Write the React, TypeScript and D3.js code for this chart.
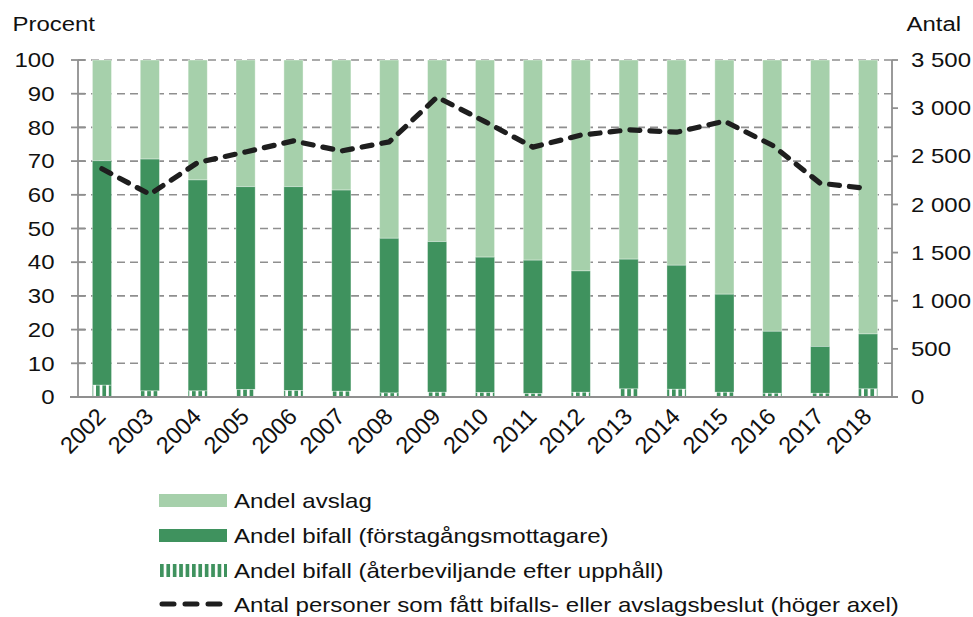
import React from "react";
import * as d3 from "d3";

const years = ["2002","2003","2004","2005","2006","2007","2008","2009","2010","2011","2012","2013","2014","2015","2016","2017","2018"];
const aterbeviljande = [3.5, 1.8, 1.8, 2.2, 1.9, 1.7, 1.2, 1.4, 1.3, 1.0, 1.4, 2.4, 2.3, 1.4, 1.1, 1.1, 2.4];
const forstagang = [66.6, 68.8, 62.6, 60.2, 60.5, 59.7, 45.9, 44.7, 40.2, 39.6, 36.0, 38.5, 36.8, 29.1, 18.4, 13.9, 16.3];
const avslag = [29.9, 29.4, 35.6, 37.6, 37.6, 38.6, 52.9, 53.9, 58.5, 59.4, 62.6, 59.1, 60.9, 69.5, 80.5, 85.0, 81.3];
const antal = [2370, 2105, 2435, 2545, 2660, 2555, 2650, 3115, 2860, 2595, 2720, 2775, 2750, 2865, 2615, 2220, 2165];
const leftTicks = [0, 10, 20, 30, 40, 50, 60, 70, 80, 90, 100];
const rightTicks = [0, 500, 1000, 1500, 2000, 2500, 3000, 3500];
const legendLabels = [
  "Andel avslag",
  "Andel bifall (förstagångsmottagare)",
  "Andel bifall (återbeviljande efter upphåll)",
  "Antal personer som fått bifalls- eller avslagsbeslut (höger axel)",
];

const LIGHT = "#a6d0ab";
const DARK = "#3f925e";
const GRID = "#8f8f8f";
const FONT = "'Liberation Sans', Arial, sans-serif";

const fmt = (v: number) => {
  const s = String(v);
  return s.length > 3 ? s.slice(0, s.length - 3) + "\u00a0" + s.slice(s.length - 3) : s;
};

function SText(props: { x: number; y: number; sx: number; size: number; anchor?: string; dy?: string; children: React.ReactNode }) {
  const { x, y, sx, size, anchor, dy, children } = props;
  return (
    <text transform={`translate(${x},${y}) scale(${sx},1)`} x={0} y={0} dy={dy} textAnchor={anchor || "start"} fontSize={size} fill="#111">
      {children}
    </text>
  );
}

export default function App() {
  const W = 973, H = 617;
  const left = 78, right = 892, top = 60, bottom = 397;
  const x = d3.scaleBand<string>().domain(years).range([left, right]).paddingInner(0.6).paddingOuter(0.3);
  const y = d3.scaleLinear().domain([0, 100]).range([bottom, top]);
  const y2 = d3.scaleLinear().domain([0, 3500]).range([bottom, top]);
  const bw = x.bandwidth();
  const cx = (yr: string) => (x(yr) as number) + bw / 2;

  const line = d3.line<number>().x((_, i) => cx(years[i])).y((d) => y2(d)).curve(d3.curveLinear);

  const legY = [500.5, 535.5, 570.5, 604];

  return (
    <svg width={W} height={H} style={{ position: "absolute", left: 0, top: 0, background: "#fff" }} fontFamily={FONT}>
      <defs>
        <pattern id="stripes" patternUnits="userSpaceOnUse" width={6.4} height={10}>
          <rect x={0} y={0} width={6.4} height={10} fill={DARK} />
          <rect x={3.7} y={0} width={2.7} height={10} fill="#ffffff" />
        </pattern>
      </defs>
      <rect x={0} y={0} width={W} height={H} fill="#fff" />

      {leftTicks.filter((t) => t > 0).map((t) => (
        <line key={"g" + t} x1={left} x2={right} y1={y(t)} y2={y(t)} stroke={GRID} strokeWidth={1.6} strokeDasharray="8,5" />
      ))}

      {years.map((yr, i) => {
        const x0 = x(yr) as number;
        const a = aterbeviljande[i];
        const f = forstagang[i];
        const r = avslag[i];
        return (
          <g key={yr}>
            <rect x={x0} width={bw} y={y(a + f + r)} height={y(a + f) - y(a + f + r)} fill={LIGHT} stroke="#ffffff" strokeOpacity={0.5} strokeWidth={0.8} />
            <rect x={x0} width={bw} y={y(a + f)} height={y(a) - y(a + f)} fill={DARK} stroke="#ffffff" strokeOpacity={0.4} strokeWidth={0.8} />
            <rect x={x0} width={bw} y={y(a)} height={y(0) - y(a)} fill="url(#stripes)" stroke="#ffffff" strokeOpacity={0.4} strokeWidth={0.8} />
          </g>
        );
      })}

      <line x1={left} x2={left} y1={top} y2={bottom} stroke={GRID} strokeWidth={1.8} />
      <line x1={right} x2={right} y1={top} y2={bottom} stroke={GRID} strokeWidth={1.8} />
      <line x1={left - 8} x2={right + 6} y1={bottom} y2={bottom} stroke={GRID} strokeWidth={1.8} />
      {leftTicks.map((t) => (
        <g key={"lt" + t}>
          <line x1={left - 7} x2={left + 7} y1={y(t)} y2={y(t)} stroke={GRID} strokeWidth={1.8} />
          <SText x={54.5} y={y(t)} dy="0.36em" anchor="end" size={20} sx={1.2}>{t}</SText>
        </g>
      ))}
      {rightTicks.map((t) => (
        <g key={"rt" + t}>
          <line x1={right} x2={right + 6} y1={y2(t)} y2={y2(t)} stroke={GRID} strokeWidth={1.8} />
          <SText x={911} y={y2(t)} dy="0.36em" size={20} sx={1.2}>{fmt(t)}</SText>
        </g>
      ))}
      {years.map((yr) => (
        <text key={"xl" + yr} transform={`translate(${cx(yr) + 5},${418}) rotate(-45)`} textAnchor="end" fontSize={23.5} fill="#111">{yr}</text>
      ))}
      <SText x={12.5} y={31} size={21} sx={1.14}>Procent</SText>
      <SText x={906.5} y={31} size={21} sx={1.14}>Antal</SText>

      <path d={line(antal) || ""} fill="none" stroke="#1e1e1e" strokeWidth={5.2} strokeDasharray="10,10" strokeLinecap="round" strokeLinejoin="round" />

      <rect x={159} y={legY[0] - 6.5} width={68} height={13} fill={LIGHT} />
      <rect x={159} y={legY[1] - 6.5} width={68} height={13} fill={DARK} />
      <rect x={159} y={legY[2] - 6.5} width={68} height={13} fill="url(#stripes)" />
      <line x1={162} x2={224} y1={legY[3]} y2={legY[3]} stroke="#1e1e1e" strokeWidth={5} strokeDasharray="12,11" strokeLinecap="round" />
      {legendLabels.map((l, i) => (
        <SText key={l} x={234} y={legY[i]} dy="0.36em" size={21} sx={1.147}>{l}</SText>
      ))}
    </svg>
  );
}
